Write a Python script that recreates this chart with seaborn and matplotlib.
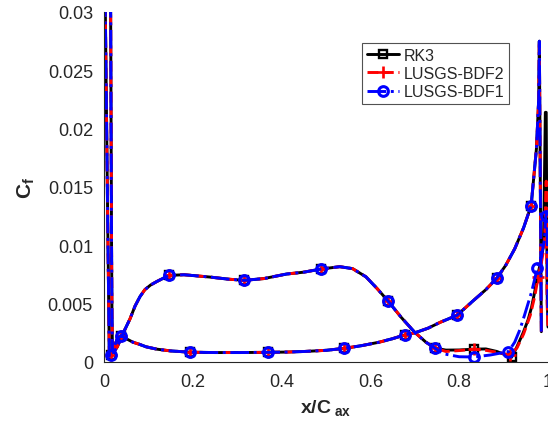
import matplotlib
matplotlib.use("Agg")
import matplotlib.pyplot as plt
from matplotlib.lines import Line2D
from matplotlib.ticker import FormatStrFormatter
import pandas as pd
import seaborn as sns

# ---------------- data ----------------
# pressure side: from trailing-edge spike back to the leading-edge bump (common to all solvers)
ps_x = [0.985, 0.9805, 0.979, 0.974, 0.962, 0.945, 0.925, 0.905, 0.885, 0.86, 0.83,
        0.795, 0.757, 0.73, 0.70, 0.679, 0.65, 0.62, 0.58, 0.541, 0.50, 0.45, 0.41,
        0.37, 0.306, 0.25, 0.194, 0.15, 0.119, 0.095, 0.081, 0.065, 0.05, 0.038]
ps_cf = [0.0026, 0.0275, 0.0225, 0.0183, 0.0134, 0.0115, 0.0097, 0.0083, 0.0072, 0.0062,
         0.0052, 0.0040, 0.0034, 0.0029, 0.0025, 0.00234, 0.0020, 0.0017, 0.0014,
         0.00117, 0.0010, 0.0009, 0.00085, 0.00083, 0.00081, 0.00081, 0.00084, 0.00095,
         0.0011, 0.0013, 0.0015, 0.0017, 0.0020, 0.00226]
ps_marks = [4, 8, 11, 15, 19, 23, 26, 33]

# leading-edge spike (common)
le_x = [0.03, 0.022, 0.016, 0.012, 0.009, 0.006, 0.003, 0.002, 0.008, 0.014, 0.015,
        0.016, 0.017, 0.018, 0.019, 0.021]
le_cf = [0.0020, 0.0012, 0.0006, 0.0005, 0.010, 0.020, 0.030, 0.033, 0.037, 0.033,
         0.030, 0.020, 0.010, 0.004, 0.0012, 0.0008]
le_marks = [2]

# suction side up to x = 0.745 (common)
ss_x = [0.03, 0.0435, 0.0586, 0.07, 0.081, 0.092, 0.105, 0.119, 0.146, 0.18, 0.239, 0.28,
        0.316, 0.36, 0.411, 0.45, 0.489, 0.531, 0.56, 0.59, 0.615, 0.639, 0.67, 0.70,
        0.725, 0.745]
ss_cf = [0.0013, 0.0025, 0.0037, 0.0048, 0.0056, 0.0062, 0.0066, 0.0069, 0.00742, 0.00748,
         0.00728, 0.0071, 0.0070, 0.00715, 0.00754, 0.0077, 0.00797, 0.00817, 0.0080,
         0.0073, 0.0063, 0.00526, 0.0038, 0.00254, 0.0017, 0.0012]
ss_marks = [8, 12, 16, 21, 25]

# suction-side tail and trailing edge, per solver
rk3_tail_x = [0.77, 0.80, 0.833, 0.86, 0.885, 0.905, 0.918, 0.93, 0.944, 0.955, 0.963,
              0.970, 0.976, 0.983, 0.990, 0.994, 0.996, 0.998, 1.0]
rk3_tail_cf = [0.00102, 0.00103, 0.0011, 0.00112, 0.0009, 0.0006, 0.0004, 0.0013, 0.0025,
               0.0036, 0.0047, 0.0060, 0.0073, 0.0085, 0.0100, 0.0214, 0.0214, 0.0060, 0.0030]
rk3_tail_marks = [2, 6]

bdf2_tail_x = [0.77, 0.80, 0.833, 0.86, 0.89, 0.915, 0.93, 0.945, 0.96, 0.970, 0.978,
               0.985, 0.992, 0.996, 0.998, 1.0]
bdf2_tail_cf = [0.0009, 0.00098, 0.0011, 0.0010, 0.0008, 0.0006, 0.0012, 0.0024, 0.0040,
                0.0056, 0.0073, 0.0085, 0.0100, 0.0155, 0.0050, 0.0030]
bdf2_tail_marks = [2, 5, 10]

bdf1_tail_x = [0.765, 0.80, 0.833, 0.87, 0.911, 0.925, 0.937, 0.947, 0.955, 0.963, 0.970,
               0.976, 0.985, 0.992, 0.995, 0.998, 1.0]
bdf1_tail_cf = [0.0007, 0.00045, 0.00043, 0.0006, 0.00089, 0.0017, 0.0028, 0.0040, 0.0050,
                0.0060, 0.0071, 0.0081, 0.0090, 0.0105, 0.0125, 0.0128, 0.0040]
bdf1_tail_marks = [2, 4, 11, 14]

solvers = ["RK3", "LUSGS-BDF2", "LUSGS-BDF1"]
x_ticks = [0, 0.2, 0.4, 0.6, 0.8, 1]
y_ticks = [0, 0.005, 0.01, 0.015, 0.02, 0.025, 0.03]


def build(tail_x, tail_cf, tail_marks):
    segs = [(ps_x, ps_cf, ps_marks), (le_x, le_cf, le_marks),
            (ss_x, ss_cf, ss_marks), (tail_x, tail_cf, tail_marks)]
    xs, ys, mk = [], [], []
    for sx, sy, sm in segs:
        off = len(xs)
        xs += sx
        ys += sy
        mk += [off + i for i in sm]
    return pd.DataFrame({"x": xs, "cf": ys}), mk


series = {
    "RK3": build(rk3_tail_x, rk3_tail_cf, rk3_tail_marks),
    "LUSGS-BDF2": build(bdf2_tail_x, bdf2_tail_cf, bdf2_tail_marks),
    "LUSGS-BDF1": build(bdf1_tail_x, bdf1_tail_cf, bdf1_tail_marks),
}

styles = {
    "RK3": dict(color="black", linestyle="-", marker="s", markersize=5.5,
                markerfacecolor="none", markeredgewidth=1.7),
    "LUSGS-BDF2": dict(color="red", linestyle="--", marker="+", markersize=9,
                       markerfacecolor="none", markeredgewidth=1.9),
    "LUSGS-BDF1": dict(color="blue", linestyle="-.", marker="o", markersize=7,
                       markerfacecolor="none", markeredgewidth=2.2),
}

# ---------------- plotting ----------------
sns.set_style("white")
plt.rcParams["font.family"] = ["Liberation Sans", "DejaVu Sans"]
plt.rcParams["mathtext.fontset"] = "custom"
plt.rcParams["mathtext.rm"] = "Liberation Sans"
plt.rcParams["mathtext.bf"] = "Liberation Sans:bold"
plt.rcParams["mathtext.it"] = "Liberation Sans:italic"

fig = plt.figure(figsize=(5.48, 4.31), dpi=100)
ax = fig.add_axes([104 / 548, 68 / 431, 444 / 548, 350 / 431])

handles = []
for name in solvers:
    df, marks = series[name]
    st = styles[name]
    sns.lineplot(data=df, x="x", y="cf", sort=False, estimator=None, ax=ax,
                 linewidth=2.1, markevery=marks,
                 markeredgecolor=st["color"], **st)
    handles.append(Line2D([], [], linewidth=2.1, markeredgecolor=st["color"], **st))

ax.set_xlim(0, 1)
ax.set_ylim(0, 0.03)
ax.set_xticks(x_ticks)
ax.set_yticks(y_ticks)
ax.xaxis.set_major_formatter(FormatStrFormatter("%g"))
ax.yaxis.set_major_formatter(FormatStrFormatter("%g"))

dark = "#262626"
for side in ["top", "right"]:
    ax.spines[side].set_visible(False)
for side in ["left", "bottom"]:
    ax.spines[side].set_color(dark)
    ax.spines[side].set_linewidth(0.8)
ax.tick_params(direction="in", length=4, width=0.8, colors=dark, labelsize=13)
ax.tick_params(axis="x", pad=8)
ax.tick_params(axis="y", pad=8)

ax.set_xlabel(r"$\mathbf{x/C}_{\mathbf{\ ax}}$", fontsize=14, color=dark, labelpad=5)
ax.set_ylabel(r"$\mathbf{C}_{\mathbf{f}}$", fontsize=15, color=dark, labelpad=8)

leg = ax.legend(handles, solvers, loc="upper left",
                bbox_to_anchor=(362 / 548, 1 - 44 / 431), bbox_transform=fig.transFigure,
                borderaxespad=0, fontsize=11.5, frameon=True, fancybox=False,
                handlelength=2.0, handletextpad=0.3, labelspacing=0.2, borderpad=0.3)
leg.get_frame().set_edgecolor(dark)
leg.get_frame().set_linewidth(0.8)

fig.savefig("out.png", dpi=100)
